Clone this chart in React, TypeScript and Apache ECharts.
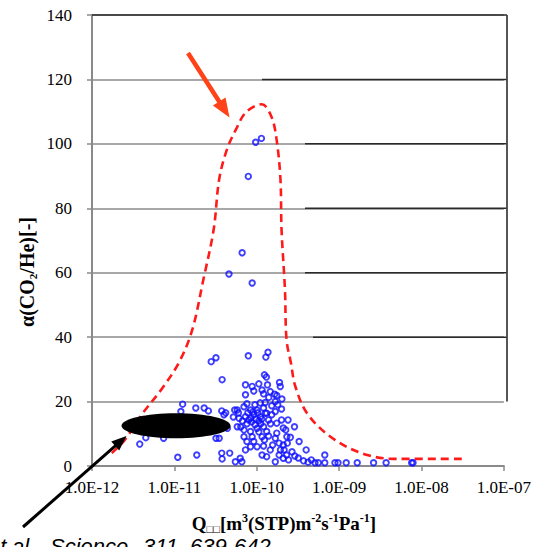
import React, { useEffect, useRef } from 'react';
import * as echarts from 'echarts';

const xTickLabels = ['1.0E-12', '1.0E-11', '1.0E-10', '1.0E-09', '1.0E-08', '1.0E-07'];

// Scatter data: permeance Q (m3(STP) m-2 s-1 Pa-1) and selectivity alpha(CO2/He)
const permeance = [
  9.7e-11, 1.14e-10, 7.9e-11, 6.65e-11, 4.6e-11, 8.8e-11, 2.8e-11, 3.2e-11, 7.9e-11, 1.29e-10,
  1.37e-10, 3.8e-11, 7.3e-11, 8.8e-11, 1.06e-10, 1.24e-10, 1.31e-10, 1.35e-10, 1.89e-10, 1.93e-10,
  7.3e-11, 9.2e-11, 1.16e-10, 1.21e-10, 1.46e-10, 1.65e-10, 1.75e-10, 2.02e-10, 1.4e-10, 1.68e-10,
  1.27e-10, 1.52e-10, 5.8e-11, 7.0e-11, 8.4e-11, 1.01e-10, 1.21e-10, 1.32e-10, 1.68e-10, 1.26e-11,
  1.82e-11, 2.3e-11, 2.59e-11, 3.76e-11, 4.0e-11, 1.2e-11, 3.8e-12, 4.5e-12, 7.4e-12, 1.1e-11,
  1.87e-11, 3.76e-11, 3.8e-11, 3.2e-11, 3.5e-11, 6.1e-11, 7.3e-11, 9.2e-11, 1.11e-10, 1.27e-10,
  1.52e-10, 1.75e-10, 4.4e-11, 5.8e-11, 7.0e-11, 8.4e-11, 1.01e-10, 1.21e-10, 1.32e-10, 1.16e-10,
  8.8e-11, 7.0e-11, 7.6e-11, 9.2e-11, 1.01e-10, 8.4e-11, 1.75e-10, 1.68e-10, 2.32e-10, 1.87e-10,
  2.1e-10, 2.35e-10, 1.46e-10, 1.16e-10, 1.32e-10, 1.87e-10, 2.1e-10, 1.68e-10, 2.43e-10, 5.5e-11,
  6.6e-11, 6.3e-11, 2.87e-10, 3.27e-10, 2.56e-10, 3.98e-10, 6.7e-10, 5.1e-10, 5.6e-10, 6.7e-10,
  8.9e-10, 9.7e-10, 1.22e-9, 1.66e-9, 2.62e-9, 3.72e-9, 7.6e-9, 7.9e-9, 8.0e-11, 8.7e-11,
  9.7e-11, 1.06e-10, 1.12e-10, 7.6e-11, 6.7e-11, 9.5e-11, 8.5e-11, 1.03e-10, 1.15e-10, 1.39e-10,
  1.47e-10, 7.8e-11, 9.0e-11, 6.0e-11, 5.2e-11, 4.2e-11, 5.4e-11, 7.6e-11, 9.5e-11, 1.1e-10,
  6.4e-11, 1.06e-10, 1.24e-10, 1.39e-10, 1.56e-10, 2.15e-10, 2.68e-10, 2.9e-10, 3.2e-10, 3.7e-10,
  4.2e-10, 4.6e-10, 2.3e-10, 1.94e-10, 1.21e-10, 7.3e-11, 4.7e-11, 2.1e-10, 2.0e-10, 2.25e-10,
  2.4e-10, 2.0e-10, 1.8e-10,
];
const selectivity = [
  100.5, 101.7, 89.9, 66.2, 59.6, 56.8, 32.4, 33.6, 34.2, 33.8,
  35.3, 26.8, 25.2, 24.7, 25.5, 28.3, 27.6, 25.2, 25.9, 24.7,
  22.1, 23.3, 23.6, 22.4, 23.1, 22.3, 21.9, 20.8, 21.3, 20.0,
  19.7, 18.7, 17.4, 18.4, 17.4, 17.4, 18.0, 16.4, 16.9, 19.2,
  18.0, 18.0, 17.1, 17.1, 15.9, 16.9, 6.8, 8.8, 8.6, 2.7,
  3.4, 4.0, 2.2, 8.6, 8.6, 14.8, 15.3, 15.9, 15.3, 16.4,
  15.9, 13.3, 11.7, 12.2, 11.2, 10.7, 11.7, 12.2, 10.7, 9.1,
  9.1, 9.1, 7.6, 7.6, 6.0, 6.0, 10.2, 8.6, 9.1, 7.1,
  6.5, 7.1, 5.0, 3.4, 2.9, 3.4, 2.4, 1.3, 1.9, 1.3,
  1.3, 2.4, 12.2, 7.6, 8.9, 5.0, 3.4, 1.0, 1.0, 1.0,
  1.0, 1.0, 1.0, 1.0, 1.0, 1.0, 1.0, 1.0, 14.3, 13.7,
  14.6, 14.0, 13.1, 13.1, 14.0, 12.8, 14.9, 16.5, 14.6, 14.3,
  13.1, 16.5, 16.8, 16.5, 15.2, 16.5, 17.4, 19.3, 19.0, 19.6,
  12.1, 10.6, 8.1, 9.3, 6.5, 5.0, 4.4, 3.1, 2.5, 1.6,
  1.2, 1.9, 3.4, 5.0, 6.2, 5.0, 4.0, 11.8, 14.3, 11.2,
  14.3, 17.7, 19.0,
];

// Red dashed envelope
const envelopeQ = [
  1.74e-12, 2.5e-12, 4.0e-12, 7.2e-12, 1.15e-11, 1.65e-11, 2.25e-11, 3.0e-11, 3.5e-11, 4.35e-11,
  5.6e-11, 7.4e-11, 1.15e-10, 1.5e-10, 1.74e-10, 1.94e-10, 2.0e-10, 2.2e-10, 2.3e-10, 2.6e-10,
  2.95e-10, 4.2e-10, 8.9e-10, 2.2e-9, 5.1e-9, 3.3e-8,
];
const envelopeAlpha = [
  4.0, 8.1, 15.9, 24.3, 32.4, 42.3, 57.9, 73.4, 89.0, 98.3,
  104.5, 109.8, 112.3, 108.6, 101.4, 89.0, 73.4, 54.8, 39.2, 32.0,
  24.6, 15.9, 8.1, 3.4, 2.2, 2.2,
];

const GRID = { left: 92, top: 15, right: 27, bottom: 81 };
const W = 534;
const H = 547;
const Y_MAX = 140;

export default function App() {
  const ref = useRef<HTMLDivElement>(null);
  useEffect(() => {
    if (!ref.current) return;
    const chart = echarts.init(ref.current, null, { renderer: 'svg' });
    const plotH = H - GRID.top - GRID.bottom;
    const xR = W - GRID.right;
    const gy = (v: number) => GRID.top + ((Y_MAX - v) / Y_MAX) * plotH;
    const dark = '#2a2a2a';
    const overlay = [
      { x1: GRID.left, v: 140 },
      { x1: 262, v: 120 },
      { x1: 305, v: 100 },
      { x1: 305, v: 80 },
      { x1: 305, v: 60 },
      { x1: 313, v: 40 },
    ].map((o) => ({
      type: 'line',
      z: 5,
      shape: { x1: o.x1, y1: gy(o.v), x2: xR, y2: gy(o.v) },
      style: { stroke: dark, lineWidth: 1.5 },
    }));

    const arrow = (x0: number, y0: number, x1: number, y1: number, color: string, w: number, hl: number, hw: number) => {
      const dx = x1 - x0, dy = y1 - y0;
      const len = Math.sqrt(dx * dx + dy * dy);
      const ux = dx / len, uy = dy / len;
      const bx = x1 - ux * hl, by = y1 - uy * hl;
      const px = -uy, py = ux;
      return [
        { type: 'line', z: 20, shape: { x1: x0, y1: y0, x2: bx + ux * 2, y2: by + uy * 2 }, style: { stroke: color, lineWidth: w } },
        {
          type: 'polygon', z: 20,
          shape: { points: [[x1, y1], [bx + px * hw, by + py * hw], [bx - px * hw, by - py * hw]] },
          style: { fill: color },
        },
      ];
    };

    const serif = '"Liberation Serif", "Times New Roman", serif';
    const richTitle = {
      b: { fontSize: 19, fontWeight: 'bold', fontFamily: serif, lineHeight: 22, fill: '#000' },
      sup: { fontSize: 12, fontWeight: 'bold', fontFamily: serif, lineHeight: 12, verticalAlign: 'top', fill: '#000' },
      sub: { fontSize: 11, fontWeight: 'bold', fontFamily: serif, lineHeight: 11, verticalAlign: 'bottom', fill: '#000' },
    };

    const citeStyle = { fontSize: 22, fontStyle: 'italic', fontFamily: '"Liberation Sans", Arial, sans-serif', fill: '#000', verticalAlign: 'top', align: 'left' };

    chart.setOption({
      animation: false,
      backgroundColor: '#fff',
      grid: { left: GRID.left, top: GRID.top, right: GRID.right, bottom: GRID.bottom, containLabel: false },
      xAxis: {
        type: 'log',
        logBase: 10,
        min: 1e-12,
        max: 1e-7,
        axisLine: { show: true, lineStyle: { color: '#8a8a8a', width: 2 } },
        axisTick: { show: true, length: 5, lineStyle: { color: '#8a8a8a', width: 1.5 } },
        minorTick: { show: false },
        splitLine: { show: false },
        axisLabel: {
          margin: 13,
          color: '#000',
          fontSize: 17,
          fontFamily: serif,
          showMinLabel: true,
          showMaxLabel: true,
          formatter: (v: number) => {
            const e = Math.round(Math.log10(v));
            return xTickLabels[e + 12] ?? '';
          },
        },
      },
      yAxis: {
        type: 'value',
        min: 0,
        max: 140,
        interval: 20,
        axisLine: { show: true, lineStyle: { color: '#8a8a8a', width: 2 } },
        axisTick: { show: true, length: 5, lineStyle: { color: '#8a8a8a', width: 1.5 } },
        splitLine: { show: true, lineStyle: { color: '#a8a8a8', width: 1.8 } },
        axisLabel: { margin: 20, color: '#000', fontSize: 17, fontFamily: serif },
      },
      series: [
        {
          type: 'line',
          data: envelopeQ.map((q, i) => [q, envelopeAlpha[i]]),
          smooth: 0.35,
          symbol: 'none',
          z: 3,
          lineStyle: { color: '#ff1a1a', width: 2.6, type: [8, 5] },
        },
        {
          type: 'scatter',
          data: permeance.map((q, i) => [q, selectivity[i]]),
          symbol: 'circle',
          symbolSize: 5.5,
          z: 4,
          itemStyle: { color: 'rgba(255,255,255,0)', borderColor: '#0f0fff', borderWidth: 1.9 },
        },
      ],
      graphic: [
        ...overlay,
        { type: 'line', z: 5, shape: { x1: xR, y1: gy(140), x2: xR, y2: gy(20) }, style: { stroke: '#444', lineWidth: 1.8 } },
        { type: 'ellipse', z: 15, shape: { cx: 176, cy: 425.8, rx: 54.5, ry: 12.5 }, style: { fill: '#000' } },
        ...arrow(188, 53, 229.5, 117.5, '#ff4217', 4.5, 19, 7.5),
        ...arrow(23, 527, 126.5, 436, '#000', 3, 15, 6),
        {
          type: 'text', z: 20, x: 284, y: 523,
          style: {
            text: '{b|Q}{sub|□□}{b|[m}{sup|3}{b|(STP)m}{sup|-2}{b|s}{sup|-1}{b|Pa}{sup|-1}{b|]}',
            rich: richTitle, align: 'center', verticalAlign: 'middle',
          },
        },
        {
          type: 'text', z: 20, x: 27, y: 272, rotation: Math.PI / 2,
          style: {
            text: '{b|α(CO}{sub|2}{b|/He)[-]}',
            rich: { ...richTitle, b: { ...richTitle.b, fontSize: 20 } },
            align: 'center', verticalAlign: 'middle',
          },
        },
        { type: 'text', z: 20, x: -12, y: 535, style: { ...citeStyle, text: 'et' } },
        { type: 'text', z: 20, x: 12, y: 535, style: { ...citeStyle, text: 'al.' } },
        { type: 'text', z: 20, x: 50, y: 535, style: { ...citeStyle, text: 'Science' } },
        { type: 'text', z: 20, x: 143, y: 535, style: { ...citeStyle, text: '311,' } },
        { type: 'text', z: 20, x: 190, y: 535, style: { ...citeStyle, text: '639-642' } },
      ],
    });
    return () => chart.dispose();
  }, []);
  return <div ref={ref} style={{ position: 'absolute', left: 0, top: 0, width: W, height: H }} />;
}
